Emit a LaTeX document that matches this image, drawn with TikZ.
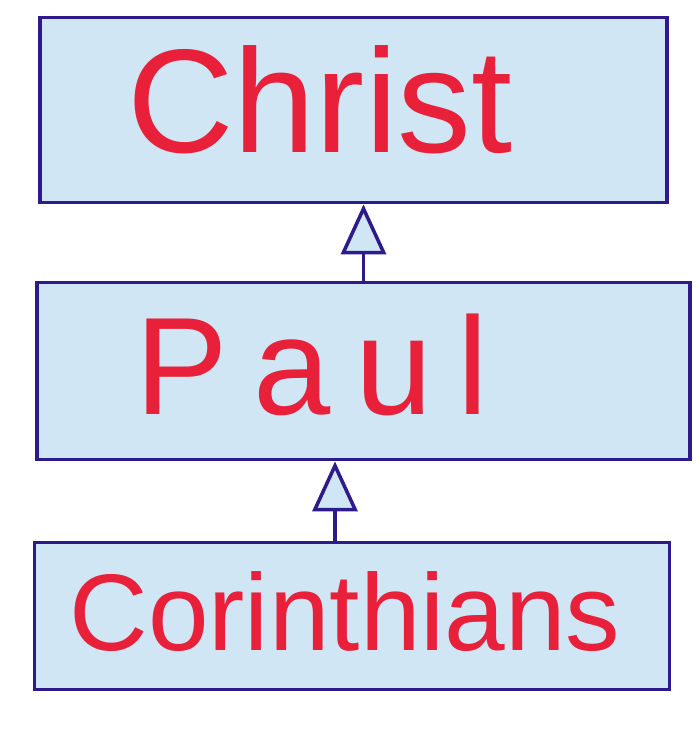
\documentclass[tikz,border=0pt]{standalone}
\usepackage{fontspec}
\setmainfont{Liberation Sans}
\usepackage{tikz}
\usetikzlibrary{positioning,arrows.meta,calc}
\definecolor{boxfill}{HTML}{D0E6F5}
\definecolor{boxline}{HTML}{2E1A8A}
\definecolor{namered}{HTML}{E8203A}

\begin{document}
\begin{tikzpicture}[
    classbox/.style={draw=boxline, fill=boxfill, line width=2.2pt, inner sep=0pt},
    classname/.style={text=namered, inner sep=0pt},
    inherit/.style={draw=boxline, line width=2pt,
        -{Triangle[length=1cm, width=0.9cm, fill=boxfill, line width=2pt]}}
]
    \useasboundingbox (0,0) rectangle (13.94,-14.66);

    % Box Christ
    \node[classbox, minimum width=12.54cm, minimum height=3.7cm] (christ) at (7.07,-2.2) {};
    \node[classname, font=\fontsize{84}{90}\selectfont] (christname) at (6.4,-2.0) {Christ};

    % Box Paul
    \node[classbox, minimum width=13.06cm, minimum height=3.54cm] (paul) at (7.27,-7.42) {};
    \node[classname, font=\fontsize{79}{85}\selectfont\addfontfeature{LetterSpace=18}] (paulname) at (6.24,-7.3) {Paul};

    % Box Corinthians
    \node[classbox, minimum width=12.7cm, minimum height=2.94cm] (cor) at (7.04,-12.32) {};
    \node[classname, font=\fontsize{62}{68}\selectfont] (corname) at (6.9,-12.24) {Corinthians};

    % Inheritance
    \draw[inherit] (paul.north) -- (paul.north |- christ.south);
    \coordinate (corfoot) at ($(cor.north)+(-0.34,0)$);
    \draw[inherit] (corfoot) -- (corfoot |- paul.south);

\end{tikzpicture}
\end{document}
